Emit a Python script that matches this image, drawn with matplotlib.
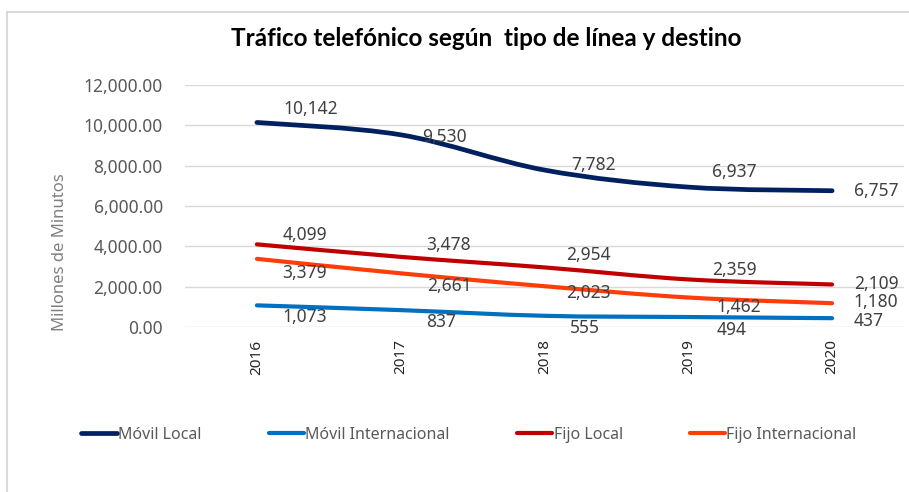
import matplotlib
matplotlib.use("Agg")
import matplotlib.pyplot as plt
from matplotlib.path import Path
from matplotlib.patches import PathPatch, Rectangle
from matplotlib.lines import Line2D
from matplotlib.ticker import FuncFormatter

# datos
anios = ['2016', '2017', '2018', '2019', '2020']
movil_local = [10142, 9530, 7782, 6937, 6757]
movil_internacional = [1073, 837, 555, 494, 437]
fijo_local = [4099, 3478, 2954, 2359, 2109]
fijo_internacional = [3379, 2661, 2023, 1462, 1180]

series = [
    ('Móvil Local', movil_local, '#002060', 3.4),
    ('Móvil Internacional', movil_internacional, '#0070C0', 3.0),
    ('Fijo Local', fijo_local, '#C00000', 3.0),
    ('Fijo Internacional', fijo_internacional, '#FF3D0A', 3.0),
]

# desplazamientos de etiquetas (pixeles, respecto al punto)
desp = {
    'Móvil Local': [(54, 13), (44, -2), (49, 5), (46, 15), (44, 0)],
    'Fijo Local': [(48, 9), (48, 12), (44, 12), (46, 9), (44, 0)],
    'Fijo Internacional': [(48, -14), (49, -13), (44, -7), (50, -9), (44, 1)],
    'Móvil Internacional': [(48, -12), (40, -12), (40, -12), (43, -13), (37, -3)],
}

plt.rcParams['font.family'] = ['Noto Sans', 'DejaVu Sans']


def curva(xs, ys):
    # bezier suavizado tipo Excel
    pts = list(zip(xs, ys))
    n = len(pts)
    verts = [pts[0]]
    codes = [Path.MOVETO]
    for i in range(n - 1):
        p0 = pts[i - 1] if i > 0 else pts[i]
        p1 = pts[i]
        p2 = pts[i + 1]
        p3 = pts[i + 2] if i + 2 < n else pts[i + 1]
        c1 = (p1[0] + (p2[0] - p0[0]) / 6, p1[1] + (p2[1] - p0[1]) / 6)
        c2 = (p2[0] - (p3[0] - p1[0]) / 6, p2[1] - (p3[1] - p1[1]) / 6)
        verts += [c1, c2, p2]
        codes += [Path.CURVE4] * 3
    return Path(verts, codes)


fig = plt.figure(figsize=(9.09, 4.92), dpi=100)
ax = fig.add_axes([185 / 909, 165 / 492, 719 / 909, 242 / 492])

x = list(range(len(anios)))
handles = []
for nombre, vals, color, lw in series:
    patch = PathPatch(curva(x, vals), fill=False, edgecolor=color, lw=lw,
                      capstyle='round', joinstyle='round', zorder=3)
    ax.add_patch(patch)
    handles.append(Line2D([], [], color=color, lw=lw, solid_capstyle='round'))
    for i, v in enumerate(vals):
        dx, dy = desp[nombre][i]
        ax.annotate(f'{v:,}', (i, v), xytext=(dx, dy), textcoords='offset pixels',
                    ha='center', va='center', fontsize=12.5, color='#404040',
                    zorder=4, annotation_clip=False)

ax.set_xlim(-0.5, 4.5)
ax.set_ylim(0, 12000)
ax.set_yticks(range(0, 12001, 2000))
ax.yaxis.set_major_formatter(FuncFormatter(lambda v, p: f'{v:,.2f}'))
ax.set_xticks(x)
ax.set_xticklabels(anios, rotation=90, fontsize=11, color='#262626')
ax.tick_params(axis='y', length=0, pad=16, labelsize=12.5, labelcolor='#595959')
ax.tick_params(axis='x', length=0, pad=9)
ax.grid(axis='y', color='#D9D9D9', lw=1)
ax.set_axisbelow(True)
for s in ax.spines.values():
    s.set_visible(False)

fig.text(60 / 909, 1 - 252 / 492, 'Millones de Minutos', rotation=90,
         ha='center', va='center', fontsize=12, color='#7F7F7F')

fig.text(486 / 909, 1 - 38 / 492, 'Tráfico telefónico según  tipo de línea y destino',
         ha='center', va='center', fontsize=17.5, fontweight='bold', color='black',
         family=['Lato', 'DejaVu Sans'])

fig.legend(handles, [s[0] for s in series], loc='center',
           bbox_to_anchor=(469 / 909, 1 - 435 / 492), ncol=4, frameon=False,
           fontsize=11.5, labelcolor='#595959', handlelength=2.2,
           handletextpad=0.1, columnspacing=4.2)

# borde del grafico
fig.patches.append(Rectangle((7 / 909, -0.1), 1.2, 1 - 12 / 492 + 0.1,
                             transform=fig.transFigure, fill=False,
                             edgecolor='#D9D9D9', lw=1.5))

fig.savefig('out.png', dpi=100)
